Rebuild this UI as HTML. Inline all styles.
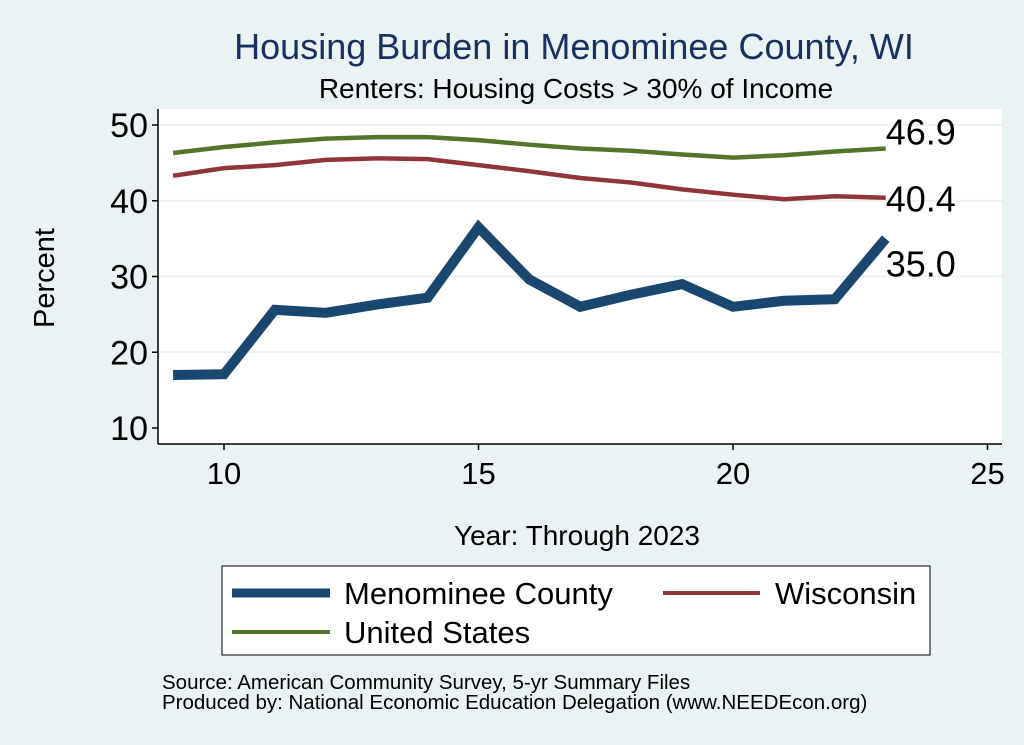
<!DOCTYPE html>
<html><head><meta charset="utf-8"><style>
body{margin:0;background:#eaf2f3;}
svg{display:block;font-family:"Liberation Sans",Arial,sans-serif;}
</style></head><body>
<svg id="c" width="1024" height="745">
<rect width="1024" height="745" fill="#eaf2f3"/>
<text x="574" y="59" text-anchor="middle" font-size="36" fill="#1a3060">Housing Burden in Menominee County, WI</text>
<text x="576" y="98" text-anchor="middle" font-size="28" fill="#000">Renters: Housing Costs &gt; 30% of Income</text>
<rect x="158" y="109" width="844" height="335" fill="#fff"/>
<g id="grid"></g><g id="axes"></g><g id="series"></g>
<text x="54" y="278" transform="rotate(-90 54 278)" text-anchor="middle" font-size="29">Percent</text>
<text x="577" y="545" text-anchor="middle" font-size="28">Year: Through 2023</text>
<g>
<rect x="222" y="566" width="708" height="89" fill="#fff" stroke="#000" stroke-width="1"/>
<line x1="232" y1="593" x2="330" y2="593" stroke="#1a476f" stroke-width="9"/>
<text x="344" y="604" font-size="31">Menominee County</text>
<line x1="663" y1="593" x2="760" y2="593" stroke="#90353b" stroke-width="4"/>
<text x="775" y="604" font-size="31">Wisconsin</text>
<line x1="232" y1="632" x2="330" y2="632" stroke="#55752f" stroke-width="4"/>
<text x="344" y="643" font-size="31">United States</text>
</g>
<text x="162" y="689" font-size="20.5">Source: American Community Survey, 5-yr Summary Files</text>
<text x="162" y="709" font-size="20.5">Produced by: National Economic Education Delegation (www.NEEDEcon.org)</text>
</svg>
<script>
const years=[9,10,11,12,13,14,15,16,17,18,19,20,21,22,23];
const menominee=[17,17.1,25.6,25.2,26.3,27.2,36.5,29.6,26,27.6,29,26,26.8,27,35];
const wisconsin=[43.3,44.3,44.7,45.4,45.6,45.5,44.7,43.9,43,42.4,41.5,40.8,40.2,40.6,40.4];
const us=[46.3,47.1,47.7,48.2,48.4,48.4,48,47.4,46.9,46.6,46.1,45.7,46,46.5,46.9];
const xTicks=[10,15,20,25];
const yTicks=[10,20,30,40,50];
const NS='http://www.w3.org/2000/svg';
const xs=v=>224+(v-10)*50.9;
const ys=v=>428-(v-10)*7.575;
function mk(t,a,p){const e=document.createElementNS(NS,t);for(const k in a)e.setAttribute(k,a[k]);p.appendChild(e);return e;}
const g=document.getElementById('grid'),ax=document.getElementById('axes'),s=document.getElementById('series');
yTicks.forEach(v=>{
 if(v>10){const l=mk('line',{x1:158,x2:1002,y1:ys(v),y2:ys(v),stroke:'#eaf2f3','stroke-width':2},g);
 
 }
 const t=mk('line',{x1:152,x2:158,y1:ys(v),y2:ys(v),stroke:'#000','stroke-width':1.5},ax);
 
 
 const tx=mk('text',{x:148,y:ys(v)+12,'text-anchor':'end','font-size':34},ax);tx.textContent=v;
 
 
});
xTicks.forEach(v=>{
 const t=mk('line',{x1:xs(v),x2:xs(v),y1:444,y2:450,stroke:'#000','stroke-width':1.5},ax);
 
 
 const tx=mk('text',{x:xs(v),y:484,'text-anchor':'middle','font-size':31},ax);tx.textContent=v;
 
 
});
const a1=mk('line',{x1:158,x2:158,y1:109,y2:444,stroke:'#000','stroke-width':1.5},ax);


const a2=mk('line',{x1:158,x2:1002,y1:444,y2:444,stroke:'#000','stroke-width':1.5},ax);


function line(data,color,w,name,dy){
 const p=mk('polyline',{points:years.map((y,i)=>xs(y)+','+ys(data[i])).join(' '),fill:'none',stroke:color,'stroke-width':w,'stroke-linejoin':'miter'},s);
 
 
 const last=data.length-1;
 const t=mk('text',{x:xs(years[last]),y:ys(data[last])+dy,'font-size':36},s);t.textContent=data[last].toFixed(1);
 
 
}
line(us,'#55752f',4.5,'us',-4);
line(wisconsin,'#90353b',4.5,'wisconsin',14);
line(menominee,'#1a476f',10,'menominee',38);
</script>
</body></html>
